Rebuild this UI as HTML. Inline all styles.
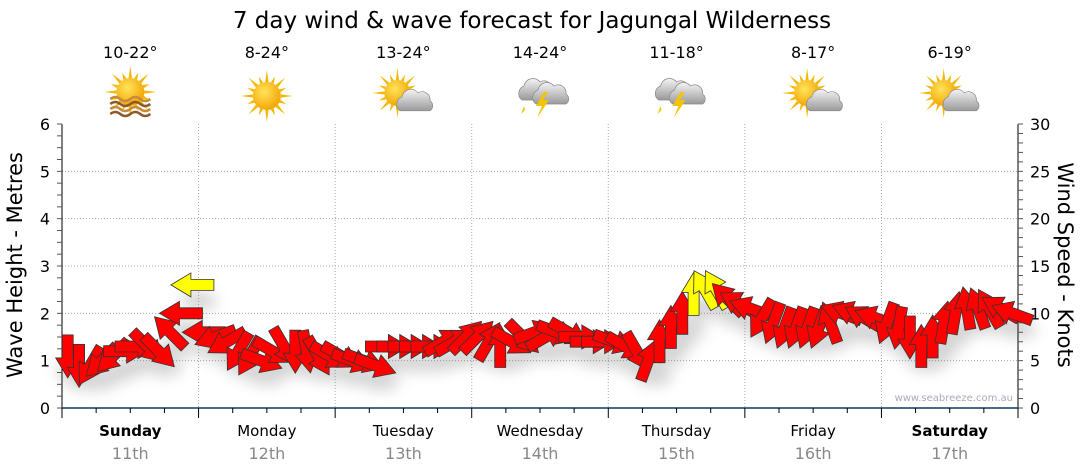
<!DOCTYPE html>
<html><head><meta charset="utf-8"><style>
html,body{margin:0;padding:0;background:#fff;}
svg{display:block;font-family:"DejaVu Sans","Liberation Sans",sans-serif;}
</style></head><body>
<svg id="chart" width="1080" height="475" viewBox="0 0 1080 475" xmlns="http://www.w3.org/2000/svg">
<defs>
<radialGradient id="sunG" cx="0.4" cy="0.35" r="0.7"><stop offset="0" stop-color="#ffe45a"/><stop offset="1" stop-color="#f2a100"/></radialGradient>
<linearGradient id="cloudG" x1="0" y1="0" x2="0" y2="1"><stop offset="0" stop-color="#f4f4f4"/><stop offset="1" stop-color="#9a9a9a"/></linearGradient>
<filter id="shadow" x="-50%" y="-50%" width="200%" height="200%"><feGaussianBlur stdDeviation="7"/></filter>
</defs>
<text x="532" y="28" font-size="23" text-anchor="middle" fill="#000">7 day wind &amp; wave forecast for Jagungal Wilderness</text>
<g id="icons"></g>
<g id="grid"></g>
<g id="axes"></g>
<g id="shadows" filter="url(#shadow)" opacity="0.25"></g>
<g id="arrows"></g>
<text x="1013" y="401" font-size="10" text-anchor="end" fill="#aab">www.seabreeze.com.au</text>
<text transform="translate(22,265) rotate(-90)" font-size="21" text-anchor="middle">Wave Height - Metres</text>
<text transform="translate(1058,265) rotate(90)" font-size="21" text-anchor="middle">Wind Speed - Knots</text>
</svg>
<script>
const days = ["Sunday","Monday","Tuesday","Wednesday","Thursday","Friday","Saturday"];
const dates = ["11th","12th","13th","14th","15th","16th","17th"];
const boldDays = [true,false,false,false,false,false,true];
const temps = ["10-22°","8-24°","13-24°","14-24°","11-18°","8-17°","6-19°"];
const icons = ["haze","sun","partly","storm","storm","partly","partly"];
const waveTicks = [0,1,2,3,4,5,6];
const windTicks = [0,5,10,15,20,25,30];
// wind speed (knots), 2-hourly
const windSpeed = [
 5.5,4.5,4.5,5,5.5,6,6.5,6.5,6,8,10,13,
 8,7.5,7,6,5.5,5,6,6.5,6,6,5.5,5.5,
 5.5,5,5,4.5,6.5,6.5,6.5,6.5,6.5,7,7,7.5,
 7.5,7,6.5,7,7.5,8,7.5,8,8,7.5,7,7,
 7,6.5,6,5,7,8.5,10,12,12.5,12.5,11.5,11,
 10.5,9.5,9,8.5,8.5,8.5,8.5,9,10,10,9.5,9.5,
 9,8.5,7.5,6.5,7.5,9,10,10.5,10.5,10.5,10.5,10];
// arrow pointing angle (deg, screen coords)
const windDir = [
 90,90,120,135,135,0,0,45,45,-135,180,180,
 180,160,150,120,120,20,30,60,90,80,60,30,
 30,20,20,20,0,0,0,0,0,-30,-30,-45,
 -45,-60,-90,30,45,-20,-30,20,30,0,0,0,
 20,30,60,-70,-90,-90,-90,-90,-120,-120,-135,-150,
 -160,120,110,110,110,110,110,-110,-160,-160,-150,-160,
 110,100,90,-90,-90,-80,-80,-100,-110,-120,-150,-160];

const NS="http://www.w3.org/2000/svg";
const X0=62,X1=1018,Y0=408,Y1=124;
const dayW=(X1-X0)/7;
const xDay=d=>X0+d*dayW;
const yWave=m=>Y0-(m/6)*(Y0-Y1);
const yWind=k=>Y0-(k/30)*(Y0-Y1);
function mk(tag,attrs,parent,txt){const e=document.createElementNS(NS,tag);for(const k in attrs)e.setAttribute(k,attrs[k]);if(txt!==undefined)e.textContent=txt;parent.appendChild(e);return e;}
const grid=document.getElementById('grid'),axes=document.getElementById('axes'),icG=document.getElementById('icons');

waveTicks.forEach(v=>{if(v>0&&v<6){const l=mk('line',{x1:X0,x2:X1,y1:yWave(v),y2:yWave(v),stroke:'#aaa','stroke-dasharray':'1,2'},grid);

}});
for(let d=1;d<7;d++){const l=mk('line',{x1:xDay(d),x2:xDay(d),y1:Y1,y2:Y0,stroke:'#aaa','stroke-dasharray':'1,2'},grid);

}

mk('line',{x1:X0,x2:X0,y1:Y1,y2:Y0,stroke:'#000'},axes);
mk('line',{x1:X1,x2:X1,y1:Y1,y2:Y0,stroke:'#000'},axes);
const bx=mk('line',{x1:X0,x2:X1,y1:Y0,y2:Y0,stroke:'#0b3a66','stroke-width':1.5},axes);


for(let i=0;i<=24;i++){const v=i*0.25,y=yWave(v);mk('line',{x1:X0-5,x2:X0,y1:y,y2:y,stroke:'#555'},axes);}
waveTicks.forEach(v=>{const t=mk('text',{x:50,y:yWave(v)+6,'font-size':16,'text-anchor':'end'},axes,String(v));

});
for(let k=0;k<=30;k++){const y=yWind(k);mk('line',{x1:X1,x2:X1+5,y1:y,y2:y,stroke:'#555'},axes);}
windTicks.forEach(v=>{const t=mk('text',{x:1030,y:yWind(v)+6,'font-size':16},axes,String(v));

});
for(let i=0;i<=28;i++){const x=X0+i*dayW/4;mk('line',{x1:x,x2:x,y1:Y0,y2:Y0+(i%4==0?10:5),stroke:'#000'},axes);}
days.forEach((d,i)=>{const cx=xDay(i+0.5);
const t=mk('text',{x:cx,y:436,'font-size':15,'text-anchor':'middle','font-weight':boldDays[i]?'bold':'normal'},axes,d);


const t2=mk('text',{x:cx,y:459,'font-size':16,'text-anchor':'middle',fill:'#888'},axes,dates[i]);


const t3=mk('text',{x:cx,y:58,'font-size':16,'text-anchor':'middle'},icG,temps[i]);


const g=mk('g',{transform:`translate(${cx},96)`},icG);


drawIcon(g,icons[i]);});

function sun(g,x,y,r){for(let a=0;a<16;a++){const an=a*Math.PI/8,L=a%2?r+7:r+12;mk('polygon',{points:`${x+Math.cos(an-0.12)*r},${y+Math.sin(an-0.12)*r} ${x+Math.cos(an)*L},${y+Math.sin(an)*L} ${x+Math.cos(an+0.12)*r},${y+Math.sin(an+0.12)*r}`,fill:'#f5b800'},g);}
mk('circle',{cx:x,cy:y,r:r,fill:'url(#sunG)'},g);}
function cloud(g,x,y,s){mk('path',{d:`M${x-14*s},${y+8*s} a8,8 0 0 1 2,-14 a9,9 0 0 1 16,-4 a8,8 0 0 1 12,8 a6,6 0 0 1 0,10 z`,fill:'url(#cloudG)',stroke:'#888','stroke-width':0.7},g);}
function drawIcon(g,t){
 if(t=='sun'){sun(g,0,0,14);}
 else if(t=='haze'){sun(g,0,-4,14);for(let i=0;i<4;i++)mk('path',{d:`M-20,${3+i*5} q5,-4 10,0 t10,0 t10,0 t10,0`,stroke:i%2?'#8a5a2a':'#c88a3a','stroke-width':2.5,fill:'none'},g);}
 else if(t=='partly'){sun(g,-6,-3,13);cloud(g,12,6,1.1);}
 else{cloud(g,-4,-4,1);cloud(g,10,0,1);mk('polygon',{points:'4,-4 -4,10 2,10 -3,22 9,4 3,4 8,-4',fill:'#f3c400'},g);
  mk('polygon',{points:'-16,10 -19,18 -15,14',fill:'#f3c400'},g);}
}

const arrowsG=document.getElementById('arrows'),shG=document.getElementById('shadows');
const n=windSpeed.length;
const arrowPts='22,0 2,-12 2,-5.5 -21,-5.5 -21,5.5 2,5.5 2,12';
for(let i=0;i<n;i++){
 const x=X0+(i+0.5)*(X1-X0)/n, y=yWind(windSpeed[i]);
 mk('ellipse',{cx:x+6,cy:y+16,rx:18,ry:9,fill:'#555'},shG);
 const a=mk('polygon',{points:arrowPts,transform:`translate(${x.toFixed(1)},${y.toFixed(1)}) rotate(${windDir[i]})`,fill:windSpeed[i]>=12?'#ffff00':'#ff0000',stroke:'#333','stroke-width':0.8},arrowsG);
 
 
}
</script>
</body></html>
